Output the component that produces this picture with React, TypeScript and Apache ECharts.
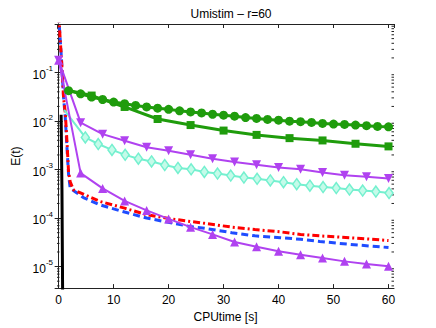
import React, { useEffect, useRef } from "react";
import * as echarts from "echarts";

const FONT = '"Liberation Sans", Arial, Helvetica, sans-serif';
const X_MIN = -0.3;
const X_MAX = 61;
const Y_MIN = 3.6e-6;
const Y_MAX = 1;

// black solid
const blackT = [0.45, 0.6, 0.75];
const blackE = [0.0135, 0.0004, 1e-6];

// red dash-dot
const redT = [0, 0.5, 0.9, 1.2, 1.5, 1.8, 2.1, 2.7, 4.5, 7.5, 12, 16, 20, 23, 26.5, 31.5, 35.7, 40.3, 44, 47.5, 51, 55, 60];
const redE = [1.5, 0.2, 0.03, 0.015, 0.004, 9e-4, 5.6e-4, 3.8e-4, 3.1e-4, 2.2e-4, 1.6e-4, 1.17e-4, 9.8e-5, 8.8e-5, 7.8e-5, 6.5e-5, 5.8e-5, 5.2e-5, 4.6e-5, 4.3e-5, 4.05e-5, 3.8e-5, 3.45e-5];

// blue dashed
const blueT = [0, 0.5, 0.9, 1.2, 1.5, 1.8, 2.1, 3.0, 4.5, 7.5, 12, 16, 19.7, 23.6, 27.2, 31.5, 35.7, 40.3, 44, 47.5, 51, 55, 60];
const blueE = [1.5, 0.2, 0.03, 0.012, 0.003, 8e-4, 4.1e-4, 3.5e-4, 2.65e-4, 1.87e-4, 1.33e-4, 1.0e-4, 8.3e-5, 6.8e-5, 6.0e-5, 5.0e-5, 4.3e-5, 3.95e-5, 3.65e-5, 3.3e-5, 3.0e-5, 2.75e-5, 2.47e-5];

// green circles (first point has no marker)
const circT = [1.0, 1.8, 4, 6, 8, 10, 12, 14, 16, 18, 20, 22, 24, 26, 28, 30, 32, 34, 36, 38, 40, 42, 44, 46, 48, 50, 52, 54, 56, 58, 60];
const circE = [0.045, 0.0423, 0.0363, 0.0311, 0.0278, 0.0246, 0.0228, 0.021, 0.0195, 0.0184, 0.0174, 0.0162, 0.0154, 0.0147, 0.0138, 0.0132, 0.0126, 0.0118, 0.0113, 0.0108, 0.0104, 0.00995, 0.00968, 0.00937, 0.00894, 0.00865, 0.00853, 0.00826, 0.00803, 0.00775, 0.0076];

// green squares (first point has no marker)
const sqT = [1.0, 6, 12, 18, 24, 30, 36, 42, 48, 54, 60];
const sqE = [0.045, 0.0335, 0.0195, 0.011, 0.00826, 0.00636, 0.00518, 0.00444, 0.00398, 0.0034, 0.003];

// cyan diamonds (first point has no marker)
const diaT = [1.0, 4.85, 7.2, 9.7, 12.1, 14.5, 16.9, 19.3, 21.7, 24.1, 26.5, 28.9, 31.3, 33.7, 36.1, 38.5, 40.9, 43.3, 45.7, 48.1, 50.5, 52.9, 55.3, 57.7, 60.1];
const diaE = [0.017, 0.0046, 0.00336, 0.00254, 0.00201, 0.00167, 0.00147, 0.00124, 0.00108, 0.00101, 0.000893, 0.000826, 0.000752, 0.000684, 0.000644, 0.000595, 0.00055, 0.000498, 0.000464, 0.000435, 0.000415, 0.000387, 0.000369, 0.000351, 0.000328];

// purple down triangles
const downT = [0, 4, 8, 12, 16, 20, 24, 28, 32, 36, 40, 44, 48, 52, 56, 60];
const downE = [0.18, 0.00927, 0.00537, 0.00392, 0.00288, 0.00245, 0.00201, 0.00167, 0.00143, 0.00126, 0.0011, 0.00101, 0.000865, 0.000762, 0.000707, 0.000653];

// purple up triangles
const upT = [0, 4, 8, 12, 16, 20, 24, 28, 32, 36, 40, 44, 48, 52, 56, 60];
const upE = [0.18, 0.000845, 0.000409, 0.000226, 0.000144, 9.6e-5, 6.5e-5, 4.6e-5, 3.22e-5, 2.55e-5, 2.07e-5, 1.75e-5, 1.5e-5, 1.28e-5, 1.13e-5, 1.01e-5];

// minor log ticks
const minorMantissas = [2, 3, 4, 5, 6, 7, 8, 9];
const minorDecades = [-6, -5, -4, -3, -2, -1];

const GREEN = "#1f9c0c";
const PURPLE = "#b042f0";
const CYAN = "#74f0cf";

function pts(t: number[], e: number[], skip = 0) {
  return t.map((x, i) => (i < skip ? { value: [x, e[i]], symbol: "none" } : [x, e[i]]));
}

export default function App() {
  const ref = useRef<HTMLDivElement>(null);
  useEffect(() => {
    if (!ref.current) return;
    const chart = echarts.init(ref.current, null, { renderer: "svg" });
    const minorVals: number[] = [];
    minorDecades.forEach((d) =>
      minorMantissas.forEach((m) => {
        const v = m * Math.pow(10, d);
        if (v > Y_MIN && v < Y_MAX) minorVals.push(v);
      })
    );
    const axisLine = { show: true, lineStyle: { color: "#222", width: 1 } };
    const tick = { show: true, inside: true, length: 4, lineStyle: { color: "#222", width: 1 } };
    chart.setOption({
      animation: false,
      backgroundColor: "#fff",
      title: {
        text: "Umistim – r=60",
        left: 226,
        top: 3,
        textAlign: "center",
        textStyle: { fontFamily: FONT, fontSize: 12, fontWeight: "normal", color: "#000" },
      },
      grid: { left: 57, top: 24, right: 42, bottom: 37 },
      xAxis: [
        {
          type: "value",
          min: X_MIN,
          max: X_MAX,
          splitNumber: 6,
          position: "bottom",
          name: "CPUtime [s]",
          nameLocation: "middle",
          nameGap: 18,
          nameTextStyle: { fontFamily: FONT, fontSize: 12, color: "#000" },
          axisLine,
          axisTick: tick,
          splitLine: { show: false },
          axisLabel: {
            showMinLabel: false,
            showMaxLabel: false,
            margin: 6,
            fontFamily: FONT,
            fontSize: 12,
            color: "#000",
          },
        },
        {
          type: "value",
          min: X_MIN,
          max: X_MAX,
          splitNumber: 6,
          position: "top",
          axisLine,
          axisTick: tick,
          splitLine: { show: false },
          axisLabel: { show: false },
        },
      ],
      yAxis: [
        {
          type: "log",
          logBase: 10,
          min: Y_MIN,
          max: Y_MAX,
          position: "left",
          name: "E(t)",
          nameLocation: "middle",
          nameGap: 31,
          nameTextStyle: { fontFamily: FONT, fontSize: 12, color: "#000" },
          axisLine,
          axisTick: tick,
          splitLine: { show: false },
          axisLabel: {
            margin: 4,
            showMinLabel: false,
            showMaxLabel: false,
            formatter: (v: number) => {
              const l = Math.log10(v);
              const e = Math.round(l);
              if (Math.abs(l - e) > 1e-6 || e >= 0) return "";
              return `{b|10}{s|${e}}`;
            },
            rich: {
              b: { fontFamily: FONT, fontSize: 12, color: "#000", lineHeight: 16, verticalAlign: "bottom" },
              s: { fontFamily: FONT, fontSize: 8, color: "#000", lineHeight: 16, verticalAlign: "top" },
            },
          },
        },
        {
          type: "log",
          logBase: 10,
          min: Y_MIN,
          max: Y_MAX,
          position: "right",
          axisLine,
          axisTick: tick,
          splitLine: { show: false },
          axisLabel: { show: false },
        },
      ],
      series: [
        {
          type: "custom",
          silent: true,
          clip: false,
          data: minorVals.map((v) => [X_MIN, v]),
          renderItem: (_p: any, api: any) => {
            const v = api.value(1);
            const a = api.coord([X_MIN, v]);
            const b = api.coord([X_MAX, v]);
            return {
              type: "group",
              children: [
                { type: "line", shape: { x1: a[0], y1: a[1], x2: a[0] + 2.5, y2: a[1] }, style: { stroke: "#222", lineWidth: 1 } },
                { type: "line", shape: { x1: b[0] - 2.5, y1: b[1], x2: b[0], y2: b[1] }, style: { stroke: "#222", lineWidth: 1 } },
              ],
            };
          },
        },
        {
          type: "line",
          data: pts(blackT, blackE),
          symbol: "none",
          lineStyle: { color: "#000", width: 3 },
        },
        {
          type: "line",
          data: pts(blueT, blueE),
          symbol: "none",
          lineStyle: { color: "#1f4cff", width: 3, type: [7, 4] },
        },
        {
          type: "line",
          data: pts(redT, redE),
          symbol: "none",
          lineStyle: { color: "#ff0000", width: 3, type: [7, 3, 2, 3] },
        },
        {
          type: "line",
          data: pts(circT, circE, 1),
          symbol: "circle",
          symbolSize: 9,
          itemStyle: { color: GREEN },
          lineStyle: { color: GREEN, width: 3 },
        },
        {
          type: "line",
          data: pts(sqT, sqE, 1),
          symbol: "rect",
          symbolSize: 8,
          itemStyle: { color: GREEN },
          lineStyle: { color: GREEN, width: 3 },
        },
        {
          type: "line",
          data: pts(diaT, diaE, 1),
          symbol: "diamond",
          symbolSize: [8, 11],
          itemStyle: { color: "#c4fbe9", borderColor: CYAN, borderWidth: 1.5 },
          lineStyle: { color: CYAN, width: 2 },
        },
        {
          type: "line",
          data: pts(downT, downE),
          symbol: "triangle",
          symbolRotate: 180,
          symbolSize: 9,
          itemStyle: { color: PURPLE },
          lineStyle: { color: PURPLE, width: 2 },
        },
        {
          type: "line",
          data: pts(upT, upE),
          symbol: "triangle",
          symbolSize: 9,
          itemStyle: { color: PURPLE },
          lineStyle: { color: PURPLE, width: 2 },
        },
      ],
    });
    return () => chart.dispose();
  }, []);
  return (
    <div
      ref={ref}
      style={{ position: "fixed", left: 0, top: 0, width: 436, height: 328, background: "#fff" }}
    />
  );
}
